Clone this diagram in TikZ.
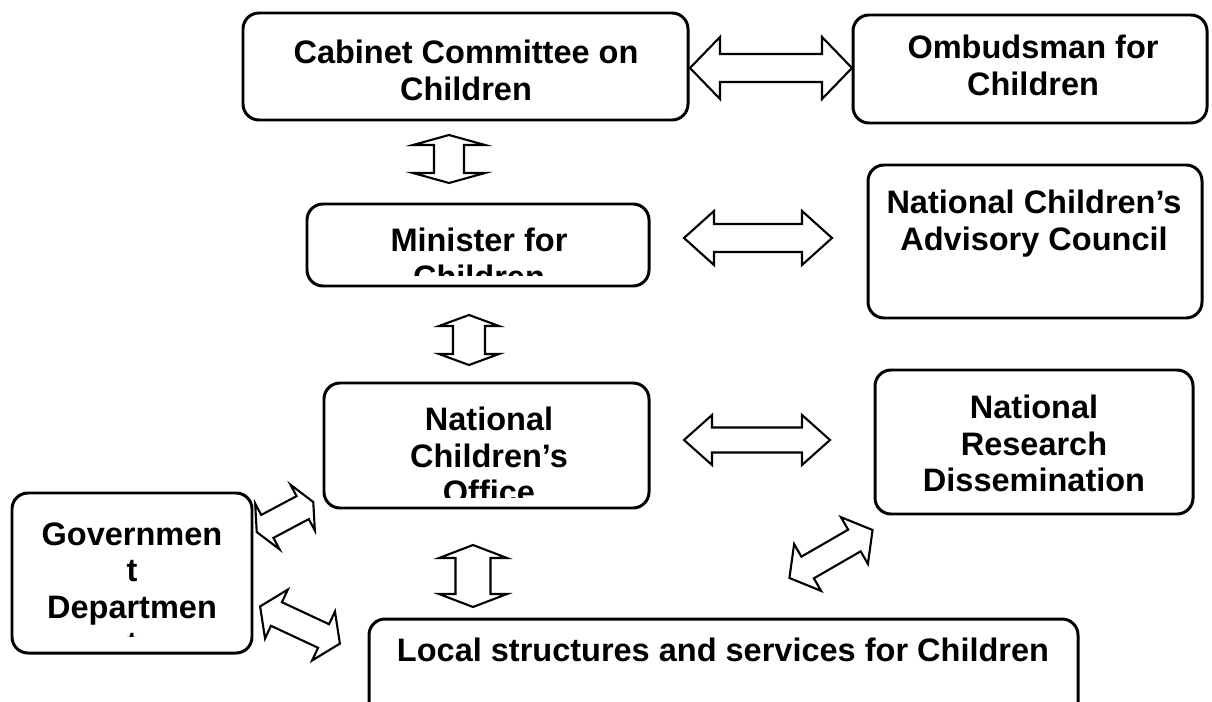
\documentclass[tikz,border=0pt]{standalone}
\usepackage{fontspec}
\setmainfont{Liberation Sans}
\usetikzlibrary{fit}

\begin{document}
\begin{tikzpicture}[
    x=0.02cm, y=-0.02cm,
    box/.style={draw, line width=1.7pt, rounded corners=0.32cm, inner sep=0pt},
    boxtext/.style={anchor=north, inner sep=0pt, align=center, font=\bfseries\fontsize{18.5}{20.8}\selectfont},
    pics/dblarrow/.style args={#1/#2/#3/#4}{code={
        \draw[line width=1.2pt, fill=white]
          (-#1,0) -- (-#1+#4,-#2) -- (-#1+#4,-#3) -- (#1-#4,-#3) -- (#1-#4,-#2)
          -- (#1,0) -- (#1-#4,#2) -- (#1-#4,#3) -- (-#1+#4,#3) -- (-#1+#4,#2) -- cycle;
        \coordinate (-mid) at (0,0);
    }}
]
\useasboundingbox (0,0) rectangle (1212,702);
\clip (0,0) rectangle (1212,702);

% Boxes
\node[box, fit={(243,13) (688,120)}] (cabinet) {};
\node[box, fit={(853,15) (1207,123)}] (ombud) {};
\node[box, fit={(307,204) (649,286)}] (minister) {};
\node[box, fit={(868,165) (1202,318)}] (advisory) {};
\node[box, fit={(324,383) (649,508)}] (nco) {};
\node[box, fit={(875,370) (1193,514)}] (nrd) {};
\node[box, fit={(12,493) (252,653)}] (gov) {};
\node[box, fit={(369,619) (1078,730)}] (local) {};

% Texts
\node[boxtext] (cabinet-t) at (466,40) {Cabinet Committee on\\Children};
\node[boxtext] (ombud-t) at (1033,35) {Ombudsman for\\Children};
\node[boxtext] (advisory-t) at (1034,190) {National Children’s\\Advisory Council};
\node[boxtext] (nrd-t) at (1034,395) {National\\Research\\Dissemination};
\node[boxtext] (local-t) at (723,638) {Local structures and services for Children};
\begin{scope}
  \clip (307,204) rectangle (649,275);
  \node[boxtext] (minister-t) at (479,228) {Minister for\\Children};
\end{scope}
\begin{scope}
  \clip (324,383) rectangle (649,497);
  \node[boxtext] (nco-t) at (489,407) {National\\Children’s\\Office};
\end{scope}
\begin{scope}
  \clip (12,493) rectangle (252,636);
  \node[boxtext] (gov-t) at (132,522) {Governmen\\t\\Departmen\\t};
\end{scope}

% Block arrows
\pic (arrCabOmb) at (771,68) {dblarrow=81/31/14/30};
\pic (arrMinAdv) at (758,238) {dblarrow=74/27/14/30};
\pic (arrNcoNrd) at (757,440) {dblarrow=73/25/12.5/28};
\pic[rotate=90] (arrCabMin) at (449,159) {dblarrow=24/36/15/10};
\pic[rotate=90] (arrMinNco) at (469,340) {dblarrow=25/30/16/11};
\pic[rotate=90] (arrNcoLoc) at (473,576) {dblarrow=31/34/17.5/13};
\pic[rotate=30] (arrNrdLoc) at (831,554) {dblarrow=48/27/12.5/21};
\pic[rotate=28] (arrGovNco) at (285,517) {dblarrow=32/26/13/12};
\pic[rotate=-25] (arrGovLoc) at (300,625) {dblarrow=44/27/13/18};

\end{tikzpicture}
\end{document}
